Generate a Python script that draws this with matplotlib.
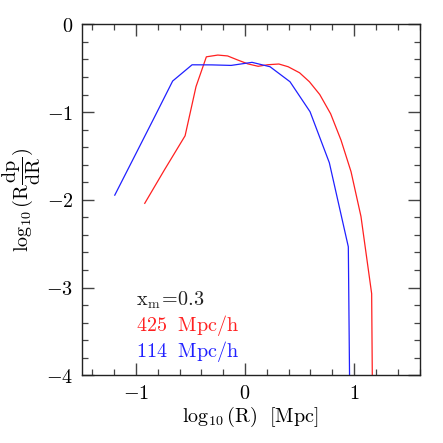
import matplotlib
matplotlib.use('Agg')
import matplotlib.pyplot as plt
from matplotlib.ticker import MultipleLocator

plt.rcParams['mathtext.fontset'] = 'cm'
plt.rcParams['font.family'] = 'serif'
plt.rcParams['font.serif'] = ['DejaVu Serif']

# log10(R) and log10(R dp/dR)
x_red = [-0.92, -0.83, -0.74, -0.64, -0.55, -0.45, -0.355, -0.25, -0.16, -0.07,
         0.024, 0.12, 0.21, 0.31, 0.395, 0.50, 0.59, 0.685, 0.785, 0.88,
         0.972, 1.063, 1.161, 1.17]
y_red = [-2.04, -1.85, -1.66, -1.455, -1.27, -0.71, -0.37, -0.35, -0.36, -0.405,
         -0.45, -0.478, -0.46, -0.452, -0.483, -0.552, -0.654, -0.80, -1.02, -1.32,
         -1.68, -2.19, -3.07, -4.5]

x_blue = [-1.195, -1.02, -0.84, -0.664, -0.486, -0.305, -0.128, 0.064, 0.229,
          0.412, 0.596, 0.773, 0.947, 0.962]
y_blue = [-1.947, -1.52, -1.08, -0.646, -0.461, -0.462, -0.468, -0.433, -0.483,
          -0.654, -0.996, -1.578, -2.536, -4.5]

y_ticks = [-4, -3, -2, -1, 0]
y_labels = [r'$-4$', r'$-3$', r'$-2$', r'$-1$', r'$0$']
x_ticks = [-1, 0, 1]
x_labels = [r'$-1$', r'$0$', r'$1$']

fig = plt.figure(figsize=(4.43, 4.43), dpi=100)
ax = fig.add_axes([0.184, 0.153, 0.763, 0.792])

ax.plot(x_red, y_red, color='#ff2020', lw=0.9)
ax.plot(x_blue, y_blue, color='#2020ff', lw=0.9)

ax.set_xlim(-1.5, 1.6)
ax.set_ylim(-4, 0)
ax.set_xticks(x_ticks)
ax.set_xticklabels(x_labels, fontsize=14.5)
ax.set_yticks(y_ticks)
ax.set_yticklabels(y_labels, fontsize=14.5)
ax.xaxis.set_minor_locator(MultipleLocator(0.2))
ax.yaxis.set_minor_locator(MultipleLocator(0.2))
ax.tick_params(which='both', direction='in', top=True, right=True, color='#444444')
ax.tick_params(which='major', length=8.5, width=1.0, pad=6)
ax.tick_params(which='minor', length=4.5, width=0.9)
for s in ax.spines.values():
    s.set_linewidth(1.0)
    s.set_color('#222222')

ax.set_xlabel(r'$\log_{10}(\mathrm{R})\ \ [\mathrm{Mpc}]$', fontsize=14.5, labelpad=2)
ax.set_ylabel(r'$\log_{10}(\mathrm{R}\dfrac{\mathrm{dp}}{\mathrm{dR}})$', fontsize=14.5, labelpad=2)

ax.text(-1.0, -3.14, r'$\mathrm{x_m\!=\!0.3}$', fontsize=14.5, va='center', color='#222222')
ax.text(-1.0, -3.43, r'$\mathrm{425\ \ Mpc/h}$', fontsize=14.5, va='center', color='#ff2020')
ax.text(-1.0, -3.73, r'$\mathrm{114\ \ Mpc/h}$', fontsize=14.5, va='center', color='#2020ff')

fig.savefig('out.png', dpi=100)
